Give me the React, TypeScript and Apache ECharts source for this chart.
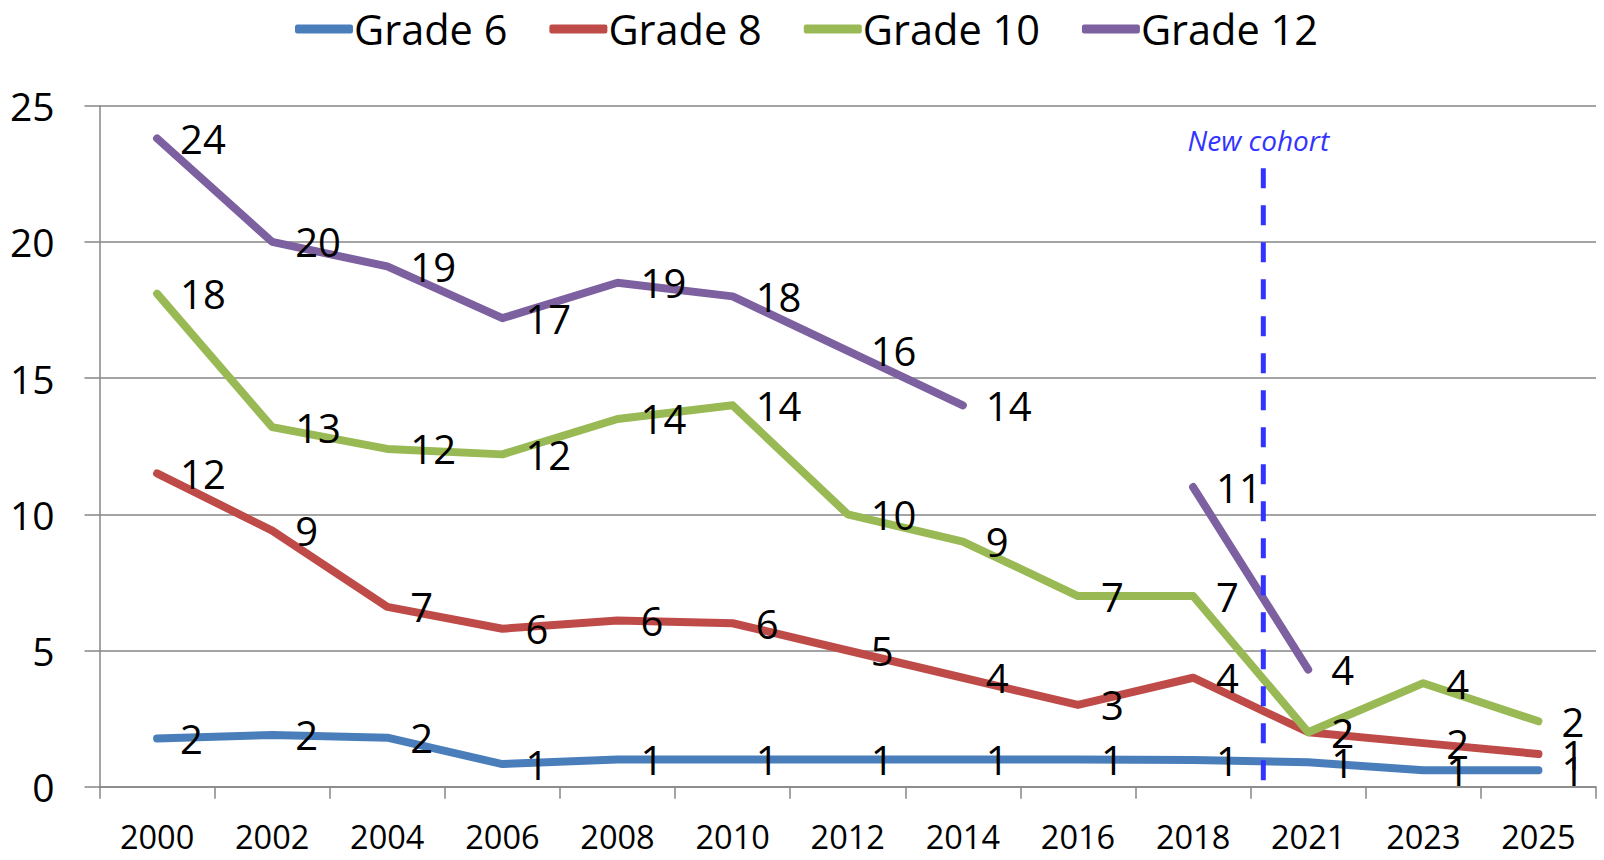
import React, { useEffect, useRef } from "react";
import * as echarts from "echarts";

const years = ["2000", "2002", "2004", "2006", "2008", "2010", "2012", "2014", "2016", "2018", "2021", "2023", "2025"];
const grade6 = [1.77, 1.9, 1.8, 0.83, 1.0, 1.0, 1.0, 1.0, 1.0, 0.98, 0.9, 0.6, 0.6];
const grade8 = [11.5, 9.4, 6.6, 5.8, 6.1, 6.0, 5.0, 4.0, 3.0, 4.0, 2.0, 1.6, 1.2];
const grade10 = [18.1, 13.2, 12.4, 12.2, 13.5, 14.0, 10.0, 9.0, 7.0, 7.0, 2.0, 3.8, 2.4];
const grade12 = [23.8, 20.0, 19.1, 17.2, 18.5, 18.0, 16.0, 14.0, null, 11.0, 4.3, null, null];
const seriesNames = ["Grade 6", "Grade 8", "Grade 10", "Grade 12"];
const seriesColors = ["#4A7EBB", "#BE4B48", "#98B954", "#7D60A0"];
const yTicks = { min: 0, max: 25, interval: 5 };
// cohort marker position, in category units along the x axis
const cohortX = [10.11, 10.11];
const cohortY = [22.7, 0];
const cohortLabel = "New cohort";

const FONT = "'Open Sans', 'Noto Sans', sans-serif";

export default function App() {
  const ref = useRef<HTMLDivElement>(null);
  useEffect(() => {
    if (!ref.current) return;
    const chart = echarts.init(ref.current, null, { renderer: "svg" });
    const all = [grade6, grade8, grade10, grade12];
    const mainSeries = all.map((d, i) => ({
      name: seriesNames[i],
      type: "line",
      data: d,
      xAxisIndex: 0,
      yAxisIndex: 0,
      connectNulls: false,
      symbol: "circle",
      symbolSize: 2,
      itemStyle: { color: seriesColors[i] },
      lineStyle: { color: seriesColors[i], width: 8, cap: "round", join: "round" },
      label: {
        show: true,
        position: "right",
        distance: 22,
        offset: [0, 0],
        color: "#000",
        fontFamily: FONT,
        fontSize: 40,
        formatter: (p: any) => (p.value == null ? "" : String(Math.round(p.value))),
      },
      z: 3 + i,
    }));
    const cohortSeries = {
      name: cohortLabel,
      type: "line",
      xAxisIndex: 1,
      yAxisIndex: 0,
      data: [
        {
          value: [cohortX[0], cohortY[0]],
          label: {
            show: true,
            position: "top",
            distance: 14,
            offset: [-5, 0],
            formatter: cohortLabel,
            color: "#3333FF",
            fontFamily: FONT,
            fontStyle: "italic",
            fontSize: 28,
          },
        },
        { value: [cohortX[1], cohortY[1]] },
      ],
      symbol: "circle",
      symbolSize: 1,
      itemStyle: { color: "transparent" },
      lineStyle: { color: "#3333FF", width: 5, type: [20, 17] },
      z: 10,
    };
    chart.setOption({
      animation: false,
      backgroundColor: "#fff",
      textStyle: { fontFamily: FONT },
      legend: {
        data: seriesNames,
        top: 7,
        left: 295,
        padding: 0,
        itemWidth: 58,
        itemHeight: 9,
        itemGap: 42,
        icon: "roundRect",
        textStyle: {
          fontFamily: FONT,
          fontSize: 41.5,
          lineHeight: 44,
          color: "#000",
          padding: [0, 0, 0, -4],
        },
      },
      grid: { left: 99.5, right: 8, top: 105.7, bottom: 73.3 },
      xAxis: [
        {
          type: "category",
          data: years,
          boundaryGap: true,
          axisLine: { show: true, lineStyle: { color: "#868686", width: 1.5 } },
          axisTick: { show: true, length: 12, lineStyle: { color: "#868686", width: 1.5 } },
          axisLabel: { color: "#000", fontFamily: FONT, fontSize: 32.5, margin: 33 },
          splitLine: { show: false },
        },
        {
          type: "value",
          min: 0,
          max: years.length,
          show: false,
        },
      ],
      yAxis: {
        type: "value",
        min: yTicks.min,
        max: yTicks.max,
        interval: yTicks.interval,
        axisLine: { show: true, lineStyle: { color: "#868686", width: 1.5 } },
        axisTick: { show: true, length: 15, lineStyle: { color: "#868686", width: 1.5 } },
        axisLabel: { color: "#000", fontFamily: FONT, fontSize: 39, margin: 45 },
        splitLine: { show: true, lineStyle: { color: "#868686", width: 1.5 } },
      },
      series: [...mainSeries, cohortSeries],
    });
    return () => chart.dispose();
  }, []);
  return (
    <div
      ref={ref}
      style={{ position: "fixed", left: 0, top: 0, width: 1604, height: 860, background: "#fff" }}
    />
  );
}
